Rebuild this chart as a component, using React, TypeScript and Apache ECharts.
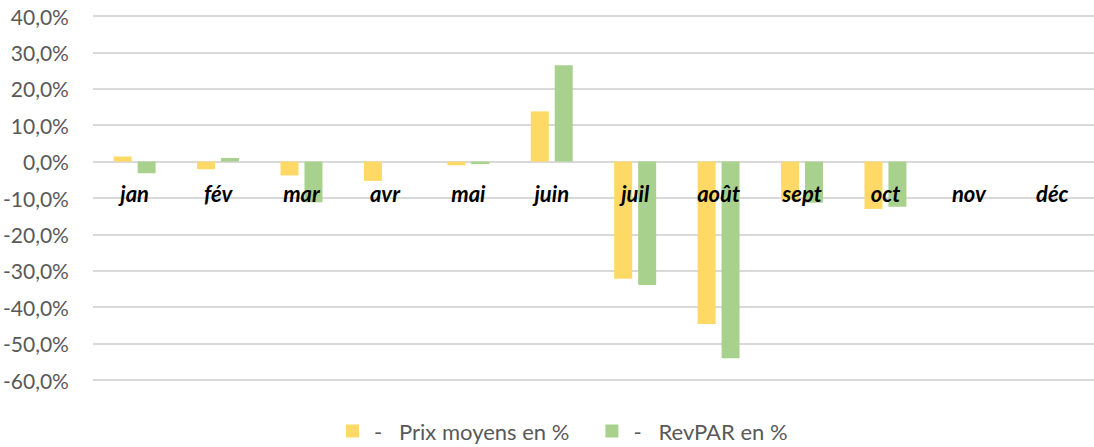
import React, { useEffect, useRef } from "react";
import * as echarts from "echarts";

const months = ["jan", "fév", "mar", "avr", "mai", "juin", "juil", "août", "sept", "oct", "nov", "déc"];
const prixMoyens = [1.4, -2.1, -3.8, -5.3, -1.0, 13.8, -32.2, -44.6, -10.5, -13.0, null, null];
const revpar = [-3.2, 1.0, -11.2, 0, -0.7, 26.5, -33.9, -54.0, -11.3, -12.4, null, null];
const seriesNames = ["-\u00a0\u00a0\u00a0Prix moyens en %", "-\u00a0\u00a0\u00a0RevPAR en %"];

const FONT = "Lato, 'Open Sans', sans-serif";

export default function App() {
  const ref = useRef<HTMLDivElement>(null);
  useEffect(() => {
    if (!ref.current) return;
    const chart = echarts.init(ref.current, null, { renderer: "svg" });
    const gridTop = 16;
    const gridBottom = 67;
    const plotH = 447 - gridTop - gridBottom;
    const zeroFromBottom = plotH * (60 / 100);
    chart.setOption({
      animation: false,
      textStyle: { fontFamily: FONT },
      grid: { left: 92, right: 0, top: gridTop, bottom: gridBottom, containLabel: false },
      legend: {
        top: 415,
        left: 341,
        itemWidth: 13,
        itemHeight: 13,
        itemGap: 36,
        icon: "rect",
        textStyle: { fontSize: 22, color: "#595959", fontFamily: FONT, padding: [0, 0, 0, 10] },
        data: seriesNames,
      },
      xAxis: {
        type: "category",
        data: months,
        z: 10,
        offset: -zeroFromBottom,
        axisLine: { show: false, onZero: false },
        axisTick: { show: false },
        axisLabel: {
          margin: 21,
          fontSize: 22,
          fontWeight: "bold",
          fontStyle: "italic",
          color: "#000000",
          fontFamily: FONT,
        },
      },
      yAxis: {
        type: "value",
        min: -60,
        max: 40,
        interval: 10,
        axisLine: { show: false },
        axisTick: { show: false },
        splitLine: { lineStyle: { color: "#D9D9D9", width: 2 } },
        axisLabel: {
          margin: 24,
          fontSize: 21,
          color: "#595959",
          fontFamily: FONT,
          formatter: (v: number) => v.toFixed(1).replace(".", ",") + "%",
        },
      },
      series: [
        {
          name: seriesNames[0],
          type: "bar",
          data: prixMoyens,
          barWidth: 18,
          barGap: "33%",
          itemStyle: { color: "#FFD966" },
        },
        {
          name: seriesNames[1],
          type: "bar",
          data: revpar,
          barWidth: 18,
          barGap: "33%",
          itemStyle: { color: "#A9D18E" },
        },
      ],
    });
    return () => chart.dispose();
  }, []);
  return (
    <div
      ref={ref}
      style={{ position: "absolute", left: 0, top: 0, width: 1094, height: 447 }}
    />
  );
}
